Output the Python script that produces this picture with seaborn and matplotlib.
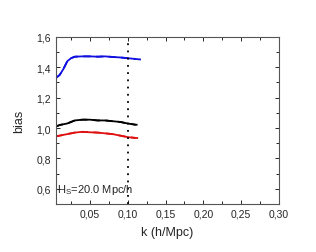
import numpy as np
import pandas as pd
import matplotlib
matplotlib.use("Agg")
import matplotlib.pyplot as plt
import seaborn as sns
from matplotlib.ticker import MultipleLocator, FuncFormatter

# bias curves
k = [0.005, 0.010, 0.015, 0.020, 0.025, 0.030, 0.040, 0.050, 0.060, 0.070, 0.080, 0.090, 0.100, 0.110, 0.120]
bias_blue = [1.33, 1.35, 1.39, 1.44, 1.46, 1.47, 1.472, 1.472, 1.47, 1.472, 1.468, 1.465, 1.46, 1.455, 1.45]
bias_black = [1.01, 1.02, 1.025, 1.03, 1.04, 1.05, 1.055, 1.055, 1.05, 1.05, 1.045, 1.04, 1.03, 1.022, 1.02]
bias_red = [0.945, 0.95, 0.955, 0.96, 0.965, 0.97, 0.975, 0.972, 0.97, 0.965, 0.96, 0.95, 0.94, 0.935, 0.932]

df = pd.DataFrame({"k": k, "blue": bias_blue, "black": bias_black, "red": bias_red})

sns.set_style("ticks")
plt.rcParams['font.family'] = ['Liberation Sans', 'DejaVu Sans']

fig = plt.figure(figsize=(3.16, 2.53), dpi=100)
ax = fig.add_axes([0.177, 0.19, 0.706, 0.66])

colors = {"blue": "#1010e0", "black": "black", "red": "#e01010"}
for name, c in colors.items():
    solid = df[df["k"] <= 0.11]
    sns.lineplot(data=solid, x="k", y=name, color=c, lw=1.3, ax=ax)
    sns.lineplot(data=df, x="k", y=name, color=c, lw=1.3, ls=(0, (4, 3)), ax=ax)

ax.axvline(0.10, color="black", ls=(0, (1, 3)), lw=1.3)

ax.set_xlim(0.005, 0.30)
ax.set_ylim(0.5, 1.6)
ax.xaxis.set_major_locator(MultipleLocator(0.05))
ax.xaxis.set_minor_locator(MultipleLocator(0.025))
ax.yaxis.set_major_locator(MultipleLocator(0.2))
ax.yaxis.set_minor_locator(MultipleLocator(0.1))
ax.xaxis.set_major_formatter(FuncFormatter(lambda v, p: f"{v:.2f}".replace(".", ",")))
ax.yaxis.set_major_formatter(FuncFormatter(lambda v, p: f"{v:.1f}".replace(".", ",")))
ax.tick_params(which="both", direction="in", top=True, right=True, labelsize=7.5, width=0.7)
ax.tick_params(which="major", length=3)
ax.tick_params(which="minor", length=2)
for s in ax.spines.values():
    s.set_linewidth(0.8)
    s.set_color("#555555")

ax.set_xlabel("k (h/Mpc)", fontsize=9, labelpad=5)
ax.set_ylabel("bias", fontsize=9, labelpad=8)
ax.text(0.006, 0.6, "H$_\\mathregular{S}$=20.0 Mpc/h", fontsize=8, va="center")

fig.savefig("out.png", dpi=100)
